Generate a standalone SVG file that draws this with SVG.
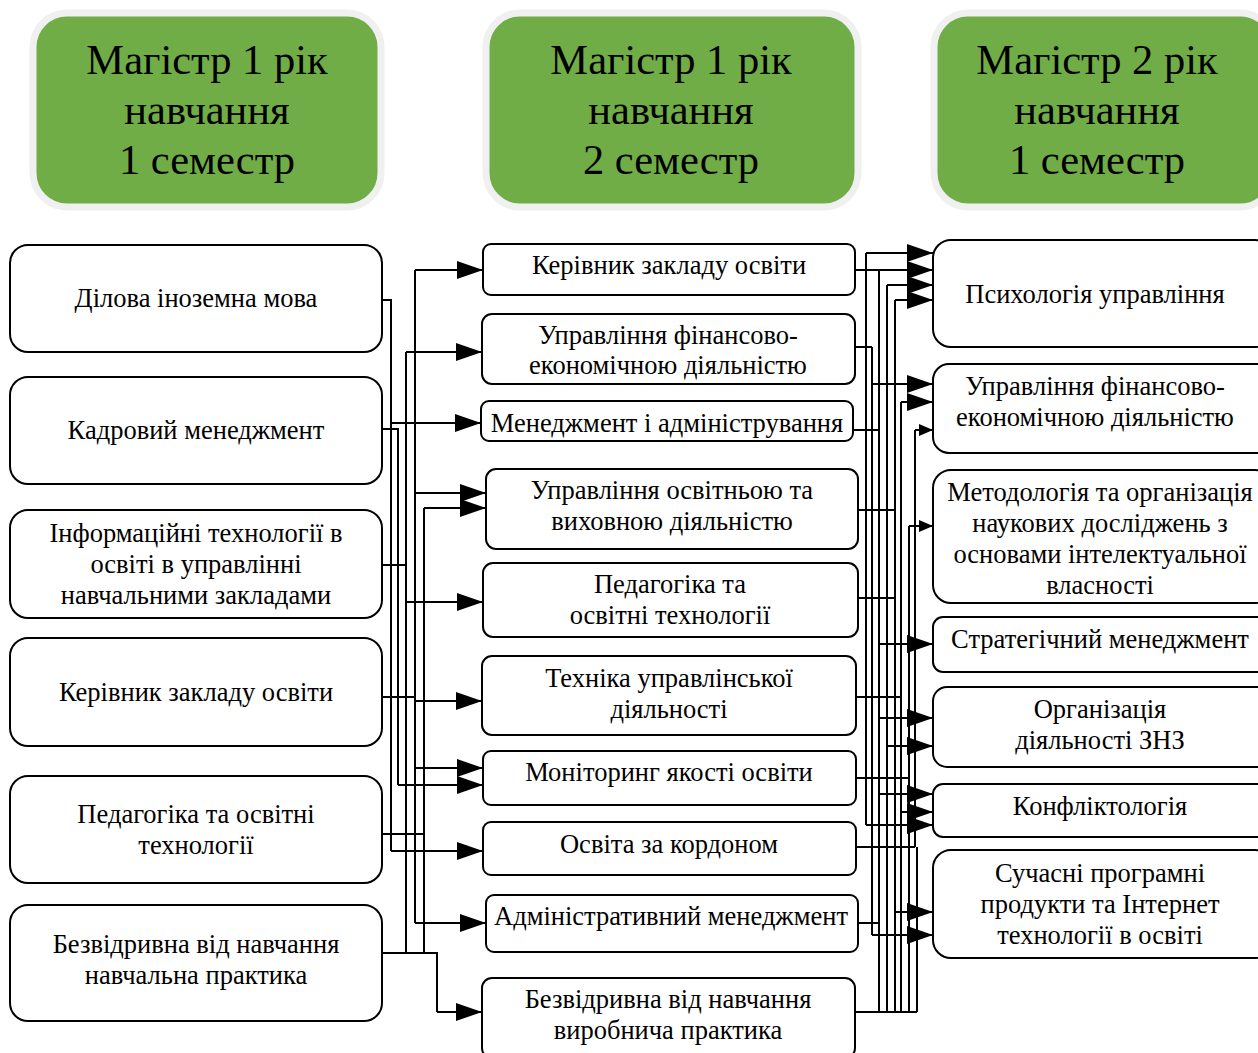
<svg xmlns="http://www.w3.org/2000/svg" width="1258" height="1053" viewBox="0 0 1258 1053">
<style>
.hdr{fill:#70AD47;stroke:#f0f0f0;stroke-width:7}
.ht{font-family:"Liberation Serif",serif;font-size:42.5px;text-anchor:middle;fill:#000}
.box{fill:#fff;stroke:#000;stroke-width:2}
.t{font-family:"Liberation Serif",serif;font-size:26.5px;text-anchor:middle;fill:#000;dominant-baseline:central}
.c{fill:none;stroke:#000;stroke-width:2}
.a{fill:none;stroke:#000;stroke-width:2;marker-end:url(#ar)}
.s{fill:none;stroke:#000;stroke-width:2;marker-end:url(#sm)}
</style>
<defs>
<marker id="ar" markerUnits="userSpaceOnUse" markerWidth="28" markerHeight="20" refX="26" refY="10" orient="auto"><path d="M0,1 L26,10 L0,19 z" fill="#000"/></marker>
<marker id="sm" markerUnits="userSpaceOnUse" markerWidth="16" markerHeight="12" refX="14" refY="6" orient="auto"><path d="M0,0 L14,6 L0,12 z" fill="#000"/></marker>
</defs>
<rect width="1258" height="1053" fill="#fff"/>
<g id="h1"><rect class="hdr" x="33" y="13" width="348" height="194" rx="34"/>
<text class="ht" x="207" y="74">Магістр 1 рік</text><text class="ht" x="207" y="124">навчання</text><text class="ht" x="207" y="174">1 семестр</text></g>
<g id="h2"><rect class="hdr" x="486" y="13" width="372" height="194" rx="34"/>
<text class="ht" x="671" y="74">Магістр 1 рік</text><text class="ht" x="671" y="124">навчання</text><text class="ht" x="671" y="174">2 семестр</text></g>
<g id="h3"><rect class="hdr" x="934" y="13" width="340" height="194" rx="34"/>
<text class="ht" x="1097" y="74">Магістр 2 рік</text><text class="ht" x="1097" y="124">навчання</text><text class="ht" x="1097" y="174">1 семестр</text></g>

<g id="connectors">
<path class="c" d="M382,300 H391 V851"/>
<path class="c" d="M382,429 H398 V785"/>
<path class="c" d="M382,565 H406"/>
<path class="c" d="M382,697 H415"/>
<path class="c" d="M382,834 H424"/>
<path class="c" d="M382,953 H437 V1012"/>
<path class="c" d="M406,953 V352"/>
<path class="c" d="M415,270 V923"/>
<path class="c" d="M424,953 V508"/>
<path class="a" d="M415,270 H483"/>
<path class="a" d="M406,352 H482"/>
<path class="a" d="M391,423 H481"/>
<path class="a" d="M415,493 H486"/>
<path class="a" d="M424,508 H486"/>
<path class="a" d="M406,602 H483"/>
<path class="a" d="M415,701 H482"/>
<path class="a" d="M415,768 H483"/>
<path class="a" d="M398,785 H483"/>
<path class="a" d="M391,851 H483"/>
<path class="a" d="M415,923 H486"/>
<path class="a" d="M437,1012 H482"/>
<path class="c" d="M855,270 H879"/>
<path class="c" d="M855,347 H872"/>
<path class="c" d="M853,430 H879"/>
<path class="c" d="M858,510 H895"/>
<path class="c" d="M858,598 H895"/>
<path class="c" d="M856,697 H901"/>
<path class="c" d="M856,778 H909"/>
<path class="c" d="M856,847 H915"/>
<path class="c" d="M858,923 H880"/>
<path class="c" d="M855,1012 H917"/>
<path class="c" d="M866,253 V825"/>
<path class="c" d="M872,347 V935"/>
<path class="c" d="M879,270 V1012"/>
<path class="c" d="M887,285 V1012"/>
<path class="c" d="M895,300 V1012"/>
<path class="c" d="M901,402 V1012"/>
<path class="c" d="M909,526 V1012"/>
<path class="c" d="M915,430 V847"/>
<path class="c" d="M917,847 V1012"/>
<path class="a" d="M866,253 H933"/>
<path class="a" d="M879,270 H933"/>
<path class="a" d="M887,285 H933"/>
<path class="a" d="M895,300 H933"/>
<path class="a" d="M872,384 H933"/>
<path class="a" d="M901,402 H933"/>
<path class="s" d="M915,430 H933"/>
<path class="s" d="M909,526 H933"/>
<path class="a" d="M880,644 H933"/>
<path class="a" d="M880,718 H933"/>
<path class="a" d="M887,746 H933"/>
<path class="a" d="M879,794 H933"/>
<path class="a" d="M901,812 H933"/>
<path class="a" d="M866,825 H933"/>
<path class="a" d="M895,912 H933"/>
<path class="a" d="M872,935 H933"/>
</g>

<g id="l1"><rect class="box" x="10" y="245" width="372" height="107" rx="18"/><text class="t" x="196" y="298">Ділова іноземна мова</text></g>
<g id="l2"><rect class="box" x="10" y="377" width="372" height="107" rx="18"/><text class="t" x="196" y="430">Кадровий менеджмент</text></g>
<g id="l3"><rect class="box" x="10" y="510" width="372" height="108" rx="18"/><text class="t" x="196" y="533">Інформаційні технології в</text><text class="t" x="196" y="564">освіті в управлінні</text><text class="t" x="196" y="595">навчальними закладами</text></g>
<g id="l4"><rect class="box" x="10" y="638" width="372" height="108" rx="18"/><text class="t" x="196" y="692">Керівник закладу освіти</text></g>
<g id="l5"><rect class="box" x="10" y="776" width="372" height="107" rx="18"/><text class="t" x="196" y="814">Педагогіка та освітні</text><text class="t" x="196" y="845">технології</text></g>
<g id="l6"><rect class="box" x="10" y="905" width="372" height="116" rx="18"/><text class="t" x="196" y="944">Безвідривна від навчання</text><text class="t" x="196" y="975">навчальна практика</text></g>

<g id="m1"><rect class="box" x="483" y="244" width="372" height="51" rx="8"/><text class="t" x="669" y="265">Керівник закладу освіти</text></g>
<g id="m2"><rect class="box" x="482" y="314" width="373" height="70" rx="10"/><text class="t" x="668" y="335">Управління фінансово-</text><text class="t" x="668" y="365">економічною діяльністю</text></g>
<g id="m3"><rect class="box" x="481" y="401" width="372" height="40" rx="8"/><text class="t" x="667" y="423">Менеджмент і адміністрування</text></g>
<g id="m4"><rect class="box" x="486" y="469" width="372" height="80" rx="10"/><text class="t" x="672" y="490">Управління освітньою та</text><text class="t" x="672" y="521">виховною діяльністю</text></g>
<g id="m5"><rect class="box" x="483" y="563" width="375" height="74" rx="10"/><text class="t" x="670" y="584">Педагогіка та</text><text class="t" x="670" y="615">освітні технології</text></g>
<g id="m6"><rect class="box" x="482" y="656" width="374" height="79" rx="10"/><text class="t" x="669" y="678">Техніка управлінської</text><text class="t" x="669" y="709">діяльності</text></g>
<g id="m7"><rect class="box" x="483" y="751" width="373" height="54" rx="8"/><text class="t" x="669" y="772">Моніторинг якості освіти</text></g>
<g id="m8"><rect class="box" x="483" y="822" width="373" height="53" rx="8"/><text class="t" x="669" y="844">Освіта за кордоном</text></g>
<g id="m9"><rect class="box" x="486" y="895" width="372" height="57" rx="8"/><text class="t" x="671" y="916">Адміністративний менеджмент</text></g>
<g id="m10"><rect class="box" x="482" y="978" width="373" height="80" rx="10"/><text class="t" x="668" y="999">Безвідривна від навчання</text><text class="t" x="668" y="1030">виробнича практика</text></g>

<g id="r1"><rect class="box" x="933" y="240" width="340" height="107" rx="18"/><text class="t" x="1095" y="294">Психологія управління</text></g>
<g id="r2"><rect class="box" x="933" y="364" width="340" height="89" rx="16"/><text class="t" x="1095" y="386">Управління фінансово-</text><text class="t" x="1095" y="417">економічною діяльністю</text></g>
<g id="r3"><rect class="box" x="933" y="470" width="340" height="133" rx="18"/><text class="t" x="1100" y="492">Методологія та організація</text><text class="t" x="1100" y="523">наукових досліджень з</text><text class="t" x="1100" y="554">основами інтелектуальної</text><text class="t" x="1100" y="585">власності</text></g>
<g id="r4"><rect class="box" x="933" y="617" width="340" height="55" rx="10"/><text class="t" x="1100" y="639">Стратегічний менеджмент</text></g>
<g id="r5"><rect class="box" x="933" y="687" width="340" height="80" rx="14"/><text class="t" x="1100" y="709">Організація</text><text class="t" x="1100" y="740">діяльності ЗНЗ</text></g>
<g id="r6"><rect class="box" x="933" y="784" width="340" height="53" rx="10"/><text class="t" x="1100" y="806">Конфліктологія</text></g>
<g id="r7"><rect class="box" x="933" y="850" width="340" height="108" rx="18"/><text class="t" x="1100" y="873">Сучасні програмні</text><text class="t" x="1100" y="904">продукти та Інтернет</text><text class="t" x="1100" y="935">технології в освіті</text></g>
</svg>
